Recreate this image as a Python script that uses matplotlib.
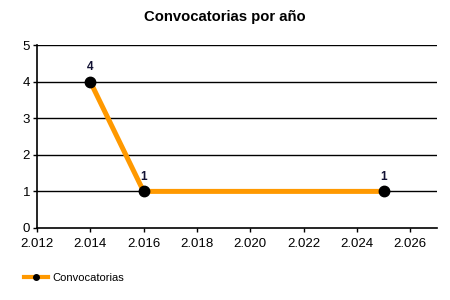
import matplotlib
matplotlib.use("Agg")
import matplotlib.pyplot as plt
from matplotlib.ticker import FuncFormatter, MultipleLocator
from matplotlib.lines import Line2D

plt.rcParams['font.family'] = ['Liberation Sans', 'DejaVu Sans']

years = [2014, 2016, 2025]
counts = [4, 1, 1]
series_name = "Convocatorias"
title = "Convocatorias por año"

fig = plt.figure(figsize=(4.5, 3), dpi=100)
ax = fig.add_axes([0.082, 0.24, 0.889, 0.61])

for y in range(1, 6):
    ax.axhline(y, color='black', lw=1, zorder=1)

ax.plot(years, counts, color='#FF9900', lw=3.6, marker='o', markersize=7.5,
        markerfacecolor='black', markeredgecolor='black', zorder=3, solid_capstyle='butt')
for x, y in zip(years, counts):
    ax.annotate(str(y), (x, y), xytext=(0, 6), textcoords='offset points',
                ha='center', va='bottom', fontsize=8.5, fontweight='bold', color='#111133')

ax.set_xlim(2012, 2027)
ax.set_ylim(0, 5)
ax.xaxis.set_major_locator(MultipleLocator(2))
ax.yaxis.set_major_locator(MultipleLocator(1))
ax.xaxis.set_major_formatter(FuncFormatter(lambda v, p: f"{v/1000:.3f}"))
for s in ['top', 'right']:
    ax.spines[s].set_visible(False)
ax.spines['left'].set_linewidth(1.2)
ax.spines['bottom'].set_linewidth(1.2)
ax.tick_params(axis='both', labelsize=9.5, length=3, width=1, colors='black', pad=2)
ax.tick_params(axis='x', pad=4)

fig.suptitle(title, x=0.5, y=0.965, fontsize=10.7, fontweight='bold')

handle = Line2D([], [], color='#FF9900', lw=3, marker='o', markersize=4,
                markerfacecolor='black', markeredgecolor='black')
fig.legend([handle], [series_name], loc='center left', bbox_to_anchor=(0.03, 0.073),
           frameon=False, fontsize=8, handlelength=2.2, handletextpad=0.4)

fig.savefig("out.png", dpi=100)
